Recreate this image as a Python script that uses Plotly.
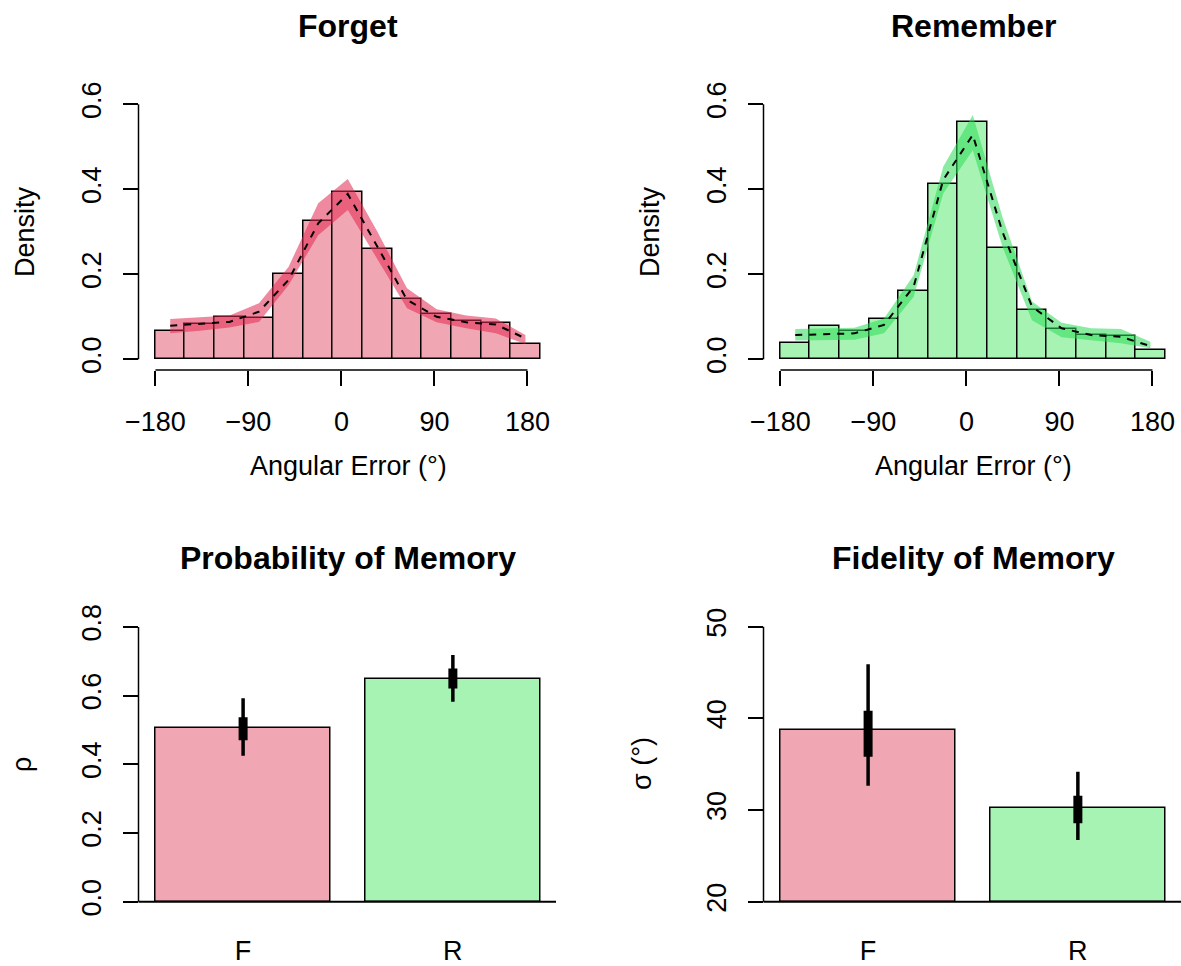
import plotly.graph_objects as go

# ---------------- data ----------------
bin_mid_deg = [-165.7, -137.1, -108.4, -79.8, -51.1, -22.5, 6.1, 34.8, 63.4, 92.1, 120.7, 149.4, 178.0]
bin_width_deg = 28.65

forget_density = [0.067, 0.084, 0.100, 0.097, 0.201, 0.325, 0.394, 0.259, 0.142, 0.107, 0.090, 0.086, 0.037]
forget_mean = [0.079, 0.083, 0.088, 0.112, 0.187, 0.320, 0.389, 0.265, 0.140, 0.100, 0.087, 0.082, 0.049]
forget_upper = [0.095, 0.099, 0.103, 0.132, 0.218, 0.367, 0.424, 0.300, 0.167, 0.118, 0.103, 0.096, 0.057]
forget_lower = [0.061, 0.067, 0.075, 0.088, 0.175, 0.292, 0.351, 0.235, 0.120, 0.087, 0.073, 0.061, 0.036]

remember_density = [0.039, 0.079, 0.066, 0.094, 0.161, 0.413, 0.558, 0.261, 0.115, 0.071, 0.057, 0.055, 0.022]
remember_mean = [0.057, 0.059, 0.061, 0.081, 0.171, 0.422, 0.528, 0.300, 0.124, 0.073, 0.057, 0.053, 0.031]
remember_upper = [0.071, 0.073, 0.074, 0.096, 0.198, 0.453, 0.575, 0.335, 0.136, 0.086, 0.073, 0.071, 0.041]
remember_lower = [0.044, 0.045, 0.046, 0.061, 0.147, 0.390, 0.492, 0.265, 0.092, 0.052, 0.045, 0.038, 0.026]

conditions = ["F", "R"]
cond_pos = [0.7, 1.9]

prob_mean = [0.506, 0.649]
prob_ci95_lo = [0.425, 0.582]
prob_ci95_hi = [0.592, 0.718]
prob_ci50_lo = [0.470, 0.621]
prob_ci50_hi = [0.537, 0.679]

fid_mean = [38.73, 30.22]
fid_ci95_lo = [32.65, 26.73]
fid_ci95_hi = [45.9, 34.18]
fid_ci50_lo = [35.82, 28.55]
fid_ci50_hi = [40.84, 31.56]

angle_ticks = [-180, -90, 0, 90, 180]
density_ticks = [0.0, 0.2, 0.4, 0.6]
prob_ticks = [0.0, 0.2, 0.4, 0.6, 0.8]
fid_ticks = [20, 30, 40, 50]

# ---------------- style ----------------
W, H = 1181, 966
FONT = "Liberation Sans, Arial, Helvetica, sans-serif"
FS = 27
PINK = "#F1A7B3"
GREEN = "#A7F3B4"
RED_BAND = "rgba(226,40,80,0.55)"
GREEN_BAND = "rgba(45,218,85,0.55)"

xL = [138.5 / W, 556 / W]
xR = [763.5 / W, 1.0]
yT = [(H - 370) / H, (H - 94) / H]
yB = [(H - 912.7) / H, (H - 615.9) / H]

fig = go.Figure()


def hist_panel(xa, ya, dens, mean, up, lo, bar_col, band_col):
    fig.add_trace(go.Bar(x=bin_mid_deg, y=dens, width=bin_width_deg,
                         marker=dict(color=bar_col, line=dict(color="black", width=1.5)),
                         xaxis=xa, yaxis=ya, showlegend=False, hoverinfo="skip"))
    fig.add_trace(go.Scatter(x=bin_mid_deg + bin_mid_deg[::-1], y=up + lo[::-1],
                             fill="toself", fillcolor=band_col, line=dict(width=0),
                             mode="lines", xaxis=xa, yaxis=ya, showlegend=False, hoverinfo="skip"))
    fig.add_trace(go.Scatter(x=bin_mid_deg, y=mean, mode="lines",
                             line=dict(color="black", width=2, dash="7px,7px"),
                             xaxis=xa, yaxis=ya, showlegend=False, hoverinfo="skip"))


def bar_panel(xa, ya, mean, lo95, hi95, lo50, hi50, base):
    fig.add_trace(go.Bar(x=cond_pos, y=[m - base for m in mean], base=base, width=1.0,
                         marker=dict(color=[PINK, GREEN], line=dict(color="black", width=1.5)),
                         xaxis=xa, yaxis=ya, showlegend=False, hoverinfo="skip"))
    for i, c in enumerate(cond_pos):
        fig.add_trace(go.Scatter(x=[c, c], y=[lo95[i], hi95[i]], mode="lines",
                                 line=dict(color="black", width=3.5),
                                 xaxis=xa, yaxis=ya, showlegend=False, hoverinfo="skip"))
        fig.add_trace(go.Scatter(x=[c, c], y=[lo50[i], hi50[i]], mode="lines",
                                 line=dict(color="black", width=9),
                                 xaxis=xa, yaxis=ya, showlegend=False, hoverinfo="skip"))


hist_panel("x", "y", forget_density, forget_mean, forget_upper, forget_lower, PINK, RED_BAND)
hist_panel("x2", "y2", remember_density, remember_mean, remember_upper, remember_lower, GREEN, GREEN_BAND)
bar_panel("x3", "y3", prob_mean, prob_ci95_lo, prob_ci95_hi, prob_ci50_lo, prob_ci50_hi, 0.0)
bar_panel("x4", "y4", fid_mean, fid_ci95_lo, fid_ci95_hi, fid_ci50_lo, fid_ci50_hi, 20.0)

tickfont = dict(family=FONT, size=FS, color="black")
common_x = dict(showgrid=False, zeroline=False, showline=False, ticks="outside", ticklen=15,
                tickwidth=1.5, tickcolor="black", tickfont=tickfont, fixedrange=True,
                automargin=False, ticklabelstandoff=13)
common_y = dict(showgrid=False, zeroline=False, showline=False, ticks="outside", ticklen=15,
                tickwidth=1.5, tickcolor="black", tickfont=tickfont, tickangle=-90,
                ticklabelstandoff=11, fixedrange=True, automargin=False)
cat_x = dict(showgrid=False, zeroline=False, showline=False, ticks="", tickfont=tickfont,
             ticklabelstandoff=19, fixedrange=True, automargin=False)

hx_range = [-196.4, 207.6]
hy_range = [-0.0252, 0.6242]

fig.update_layout(
    width=W, height=H, margin=dict(l=0, r=0, t=0, b=0, autoexpand=False),
    paper_bgcolor="white", plot_bgcolor="white", bargap=0,
    font=dict(family=FONT, size=FS, color="black"),
    xaxis=dict(domain=xL, range=hx_range, tickvals=angle_ticks, anchor="y", **common_x),
    yaxis=dict(domain=yT, range=hy_range, tickvals=density_ticks, tickformat=".1f", anchor="x", **common_y),
    xaxis2=dict(domain=xR, range=hx_range, tickvals=angle_ticks, anchor="y2", **common_x),
    yaxis2=dict(domain=yT, range=hy_range, tickvals=density_ticks, tickformat=".1f", anchor="x2", **common_y),
    xaxis3=dict(domain=xL, range=[0.1016, 2.49], tickvals=cond_pos, ticktext=conditions, anchor="y3", **cat_x),
    yaxis3=dict(domain=yB, range=[-0.032, 0.832], tickvals=prob_ticks, tickformat=".1f", anchor="x3", **common_y),
    xaxis4=dict(domain=xR, range=[0.1016, 2.49], tickvals=cond_pos, ticktext=conditions, anchor="y4", **cat_x),
    yaxis4=dict(domain=yB, range=[18.8, 51.18], tickvals=fid_ticks, anchor="x4", **common_y),
)

line_style = dict(color="black", width=1.5)
shapes = []
for xa, ya in [("x", "y"), ("x2", "y2")]:
    shapes.append(dict(type="line", xref=xa, yref=ya + " domain", x0=angle_ticks[0], x1=angle_ticks[-1],
                       y0=0, y1=0, line=line_style, layer="above"))
    shapes.append(dict(type="line", xref=xa + " domain", yref=ya, x0=0, x1=0,
                       y0=density_ticks[0], y1=density_ticks[-1], line=line_style, layer="above"))
shapes.append(dict(type="line", xref="x3 domain", yref="y3", x0=0, x1=0,
                   y0=prob_ticks[0], y1=prob_ticks[-1], line=line_style, layer="above"))
shapes.append(dict(type="line", xref="x3 domain", yref="y3", x0=0, x1=1,
                   y0=0, y1=0, line=dict(color="black", width=2), layer="above"))
shapes.append(dict(type="line", xref="x4 domain", yref="y4", x0=0, x1=0,
                   y0=fid_ticks[0], y1=fid_ticks[-1], line=line_style, layer="above"))
shapes.append(dict(type="line", xref="x4 domain", yref="y4", x0=0, x1=1,
                   y0=20, y1=20, line=dict(color="black", width=2), layer="above"))
fig.update_layout(shapes=shapes)


def ann(text, px, py, size=FS, bold=False, angle=0):
    t = f"<b>{text}</b>" if bold else text
    return dict(text=t, x=px / W, y=1 - py / H, xref="paper", yref="paper",
                xanchor="center", yanchor="middle", showarrow=False, textangle=angle,
                font=dict(family=FONT, size=size, color="black"))


annotations = [
    ann("Forget", 348, 26, 32, True),
    ann("Remember", 973, 26, 32, True),
    ann("Probability of Memory", 348, 558, 32, True),
    ann("Fidelity of Memory", 973, 558, 32, True),
    ann("Angular Error (°)", 348, 466),
    ann("Angular Error (°)", 973, 466),
    ann("Density", 25, 232, angle=-90),
    ann("Density", 650, 232, angle=-90),
    ann("ρ", 22, 765, angle=-90),
    ann("σ (°)", 642, 764, angle=-90),
]
fig.update_layout(annotations=annotations)

fig.write_html("out.html")
